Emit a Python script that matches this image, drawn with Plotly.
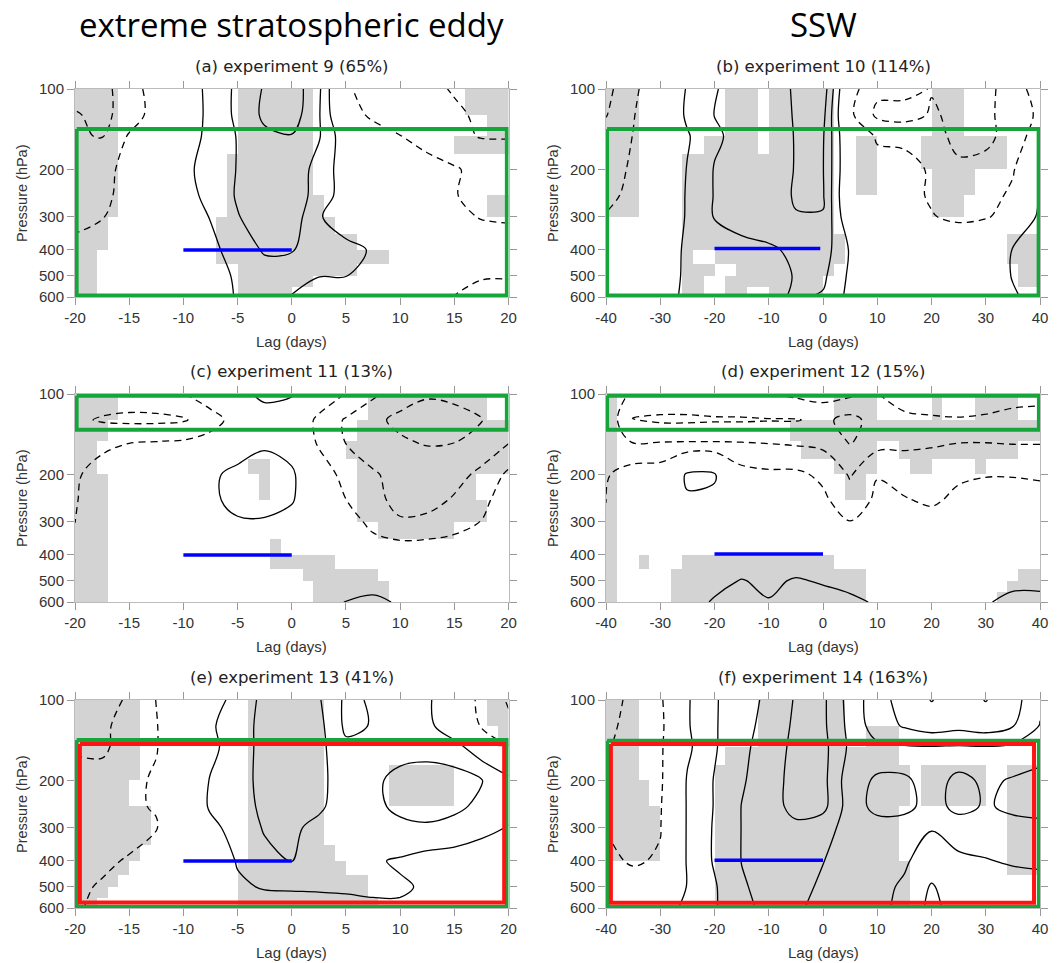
import numpy as np
import plotly.graph_objects as go

# ---------------- data ----------------
lags20 = [-20, -17.5, -15, -12.5, -10, -7.5, -5, -2.5, 0, 2.5, 5, 7.5, 10, 12.5, 15, 17.5, 20]
lags40 = [-40, -35, -30, -25, -20, -15, -10, -5, 0, 5, 10, 15, 20, 25, 30, 35, 40]
plev = [100, 125, 150, 200, 250, 300, 400, 500, 600]
shade_pedges = [100, 125, 150, 175, 200, 250, 300, 350, 400, 450, 500, 550, 600]
ptick_vals = [100, 200, 300, 400, 500, 600]
lagtick20 = [-20, -15, -10, -5, 0, 5, 10, 15, 20]
lagtick40 = [-40, -30, -20, -10, 0, 10, 20, 30, 40]
col_titles = ["extreme stratospheric eddy", "SSW"]
panel_titles = ["(a) experiment 9 (65%)", "(b) experiment 10 (114%)",
                "(c) experiment 11 (13%)", "(d) experiment 12 (15%)",
                "(e) experiment 13 (41%)", "(f) experiment 14 (163%)"]

z_a = [
    [-2.5, -2.3, -1.5, -0.5, 0.3, 1.3, 2.2, 3.1, 3.6, 2.2, -0.9, -1.3, -1.5, -1.7, -2.1, -2.5, -2.5],
    [-1.9, -2.3, -1.5, -0.6, 0.2, 1.3, 2.2, 3.2, 3.5, 2.1, -0.5, -1.2, -1.4, -1.6, -1.8, -2.2, -2.4],
    [-1.9, -2.05, -0.9, -0.3, 0.4, 1.3, 2.05, 2.8, 2.95, 2.1, 0.3, -0.5, -0.98, -1.4, -1.8, -2.05, -2.05],
    [-1.6, -1.3, -0.7, -0.2, 0.8, 1.3, 2.05, 2.6, 2.7, 1.6, 0.5, 0.1, -0.3, -0.6, -0.9, -1.3, -1.5],
    [-1.4, -1.2, -0.7, -0.2, 0.6, 1.3, 2.1, 2.6, 2.6, 1.6, 0.5, 0.1, -0.2, -0.5, -0.95, -1.3, -1.5],
    [-1.2, -1.05, -0.6, -0.1, 0.4, 1.05, 1.95, 2.5, 2.6, 1.1, 0.4, 0.1, -0.2, -0.5, -0.8, -1.05, -1.1],
    [-0.8, -0.5, -0.3, 0.0, 0.3, 0.7, 1.5, 2.1, 2.05, 1.6, 1.3, 0.9, 0.3, 0.0, -0.3, -0.5, -0.6],
    [-0.6, -0.4, -0.2, 0.0, 0.3, 0.7, 1.1, 1.6, 1.6, 1.02, 1.02, 0.6, 0.2, -0.2, -0.6, -0.9, -0.9],
    [-0.5, -0.3, -0.1, 0.0, 0.3, 0.7, 1.05, 1.4, 0.95, 0.7, 0.5, 0.3, 0.0, -0.4, -1.05, -1.4, -1.5],
]
z_b = [
    [-2.3, -1.2, -0.3, 1.1, 1.95, 2.3, 2.6, 3.1, 3.6, -0.6, -1.8, -1.7, -2.05, -2.3, -2.3, -1.5, -0.5],
    [-2.05, -1.05, -0.3, 1.2, 2.02, 2.4, 2.7, 3.05, 3.3, -0.8, -2.2, -2.4, -1.9, -2.2, -2.2, -1.6, -0.8],
    [-1.6, -0.98, -0.2, 0.9, 1.85, 2.3, 2.5, 3.05, 3.1, -0.3, -1.1, -1.2, -1.6, -2.3, -2.3, -1.5, -0.5],
    [-1.3, -0.9, -0.1, 1.05, 2.05, 2.3, 2.5, 3.05, 3.05, -0.2, -0.7, -0.7, -1.1, -1.8, -1.6, -1.1, 0.5],
    [-1.2, -0.8, 0.0, 1.1, 2.05, 2.3, 2.5, 3.1, 3.1, -0.4, -0.6, -0.7, -1.1, -1.6, -1.4, -0.8, 1.1],
    [-0.95, -0.6, 0.1, 1.1, 2.05, 2.4, 2.6, 2.95, 2.95, 0.0, -0.3, -0.6, -0.95, -1.2, -1.1, -0.6, 1.3],
    [-0.4, -0.2, 0.3, 1.2, 1.6, 1.7, 1.85, 2.2, 2.5, 0.9, 0.3, 0.1, 0.0, -0.1, 0.3, 1.05, 1.5],
    [-0.2, 0.0, 0.4, 1.2, 1.5, 1.6, 1.7, 2.05, 2.2, 0.8, 0.4, 0.2, 0.1, 0.1, 0.4, 1.05, 1.5],
    [-0.1, 0.1, 0.6, 1.2, 1.5, 1.6, 1.8, 2.1, 1.9, 0.7, 0.4, 0.2, 0.1, 0.1, 0.3, 0.9, 1.3],
]
z_c = [
    [-1.3, -1.4, -1.5, -1.4, -1.05, -0.3, 0.6, 1.3, 1.1, 0.0, -1.05, -1.8, -2.6, -2.9, -2.8, -2.2, -1.9],
    [-1.8, -2.1, -2.2, -2.2, -2.1, -1.5, -0.5, 0.4, 0.2, -1.3, -2.1, -2.8, -3.2, -3.4, -3.3, -3.05, -2.5],
    [-1.3, -1.2, -1.05, -1.02, -0.95, -0.6, 0.3, 0.8, 0.4, -1.2, -2.05, -2.5, -2.9, -3.1, -3.05, -2.6, -2.1],
    [-1.1, -0.7, -0.3, 0.0, 0.4, 0.8, 1.3, 1.5, 1.2, -0.3, -1.4, -1.9, -2.3, -2.4, -2.3, -1.8, -0.8],
    [-1.05, -0.6, -0.2, 0.1, 0.4, 0.8, 1.3, 1.4, 1.1, 0.0, -0.98, -1.7, -2.3, -2.3, -1.9, -1.2, -0.6],
    [-1.02, -0.5, -0.2, 0.0, 0.3, 0.6, 0.9, 0.9, 0.6, 0.0, -0.5, -1.3, -1.9, -1.8, -1.5, -0.98, -0.5],
    [-0.5, -0.3, -0.1, 0.0, 0.1, 0.2, 0.3, 0.3, 0.2, 0.0, -0.2, -0.4, -0.3, -0.3, -0.2, -0.1, -0.1],
    [-0.2, -0.1, 0.0, 0.0, 0.0, 0.1, 0.1, 0.1, 0.1, 0.2, 0.5, 0.6, 0.5, 0.2, 0.0, 0.0, 0.0],
    [-0.1, 0.0, 0.0, 0.0, 0.0, 0.0, 0.1, 0.1, 0.2, 0.4, 1.05, 1.2, 0.9, 0.4, 0.1, 0.0, 0.0],
]
z_d = [
    [-0.8, -2.3, -2.4, -2.4, -2.3, -2.2, -2.05, -1.8, -1.6, -1.8, -2.05, -1.2, -1.1, -1.2, -1.3, -1.4, -1.5],
    [-1.2, -3.1, -3.15, -3.15, -3.1, -3.1, -3.05, -3.05, -2.8, -3.3, -2.6, -2.4, -2.2, -2.1, -2.2, -2.5, -2.6],
    [-1.4, -2.1, -2.05, -2.05, -2.05, -2.05, -2.1, -2.2, -2.3, -3.1, -2.4, -2.2, -2.1, -2.05, -2.05, -2.1, -2.1],
    [-1.1, -0.5, -0.4, 1.15, 1.1, -0.6, -0.8, -0.8, -1.2, -2.1, -1.05, -1.5, -1.6, -1.2, -1.05, -1.05, -1.1],
    [-1.05, -0.3, -0.2, 0.9, 0.8, -0.3, -0.4, -0.5, -0.8, -1.6, -0.8, -0.9, -1.2, -0.7, -0.6, -0.6, -0.7],
    [-0.6, -0.1, 0.0, 0.2, 0.2, -0.1, -0.2, -0.3, -0.5, -0.98, -0.4, -0.4, -0.5, -0.4, -0.3, -0.3, -0.4],
    [-0.2, 0.1, 0.2, 0.3, 0.3, 0.3, 0.3, 0.3, 0.2, 0.1, 0.0, 0.0, 0.0, 0.0, 0.0, 0.1, 0.2],
    [0.0, 0.1, 0.2, 0.4, 0.7, 1.05, 0.8, 1.1, 0.9, 0.7, 0.4, 0.2, 0.2, 0.3, 0.4, 0.7, 0.8],
    [0.0, 0.1, 0.3, 0.6, 1.1, 1.6, 1.05, 1.6, 1.4, 1.2, 0.9, 0.5, 0.3, 0.4, 0.9, 1.3, 1.2],
]
z_e = [
    [-2.5, -2.3, -1.9, -0.98, 0.0, 0.6, 1.3, 2.3, 2.5, 2.1, 0.8, 1.1, 1.5, 1.2, 0.0, -1.3, -2.1],
    [-2.3, -2.2, -1.6, -1.05, -0.1, 0.9, 1.4, 2.4, 2.6, 2.3, 0.8, 1.05, 1.5, 1.3, 0.2, -1.1, -1.8],
    [-2.1, -2.2, -1.5, -1.05, -0.2, 0.8, 1.4, 2.4, 2.6, 2.3, 1.2, 1.4, 1.6, 1.6, 1.4, 0.3, -0.9],
    [-1.7, -1.6, -1.2, -0.9, 0.2, 1.05, 1.6, 2.3, 2.6, 2.4, 1.2, 1.8, 2.3, 2.5, 2.4, 2.05, 1.3],
    [-1.5, -1.4, -1.1, -0.95, 0.2, 1.1, 1.6, 2.2, 2.4, 2.2, 1.4, 1.8, 2.2, 2.3, 2.2, 1.8, 1.3],
    [-1.3, -1.3, -1.2, -1.05, 0.0, 0.8, 1.3, 2.1, 2.2, 1.7, 1.4, 1.5, 1.8, 1.9, 1.7, 1.3, 0.95],
    [-1.2, -1.1, -0.95, -0.6, -0.2, 0.5, 1.05, 1.7, 2.02, 1.4, 1.2, 1.1, 0.9, 0.6, 0.5, 0.4, 0.3],
    [-1.1, -0.95, -0.7, -0.4, -0.1, 0.4, 0.9, 1.05, 1.1, 1.1, 1.1, 1.1, 1.1, 0.9, 0.6, 0.4, 0.3],
    [-1.1, -0.8, -0.5, -0.2, 0.2, 0.6, 0.9, 0.7, 0.6, 0.7, 0.8, 0.9, 0.9, 0.7, 0.5, 0.3, 0.2],
]
z_f = [
    [-0.5, -1.3, -1.2, 0.9, 1.9, 2.6, 3.2, 4.1, 4.2, 2.6, 1.4, 0.6, -1.1, 0.2, -1.1, 0.6, 1.8],
    [-0.7, -1.4, -1.3, 0.9, 1.9, 2.7, 3.3, 4.2, 4.2, 2.7, 1.5, 0.9, 0.5, 0.7, 0.5, 0.95, 2.05],
    [-0.9, -1.4, -1.2, 0.8, 1.9, 2.8, 3.4, 4.3, 4.3, 2.8, 2.2, 2.1, 2.05, 2.1, 2.05, 2.2, 2.4],
    [-1.1, -1.3, -1.2, 1.1, 2.05, 2.9, 3.5, 4.4, 4.3, 2.4, 3.2, 3.2, 2.5, 3.3, 2.8, 3.1, 3.4],
    [-1.1, -1.2, -1.1, 1.1, 2.05, 3.02, 3.6, 4.3, 4.3, 2.5, 3.3, 3.3, 2.6, 3.3, 2.9, 3.2, 3.4],
    [-1.02, -1.2, -1.05, 1.1, 2.1, 3.02, 3.5, 3.8, 3.4, 2.6, 2.6, 2.5, 2.05, 2.5, 2.5, 2.7, 2.7],
    [-0.8, -1.1, -0.9, 1.1, 2.1, 3.02, 3.4, 3.4, 3.02, 2.6, 2.4, 2.1, 1.6, 1.8, 1.95, 2.1, 2.2],
    [-0.5, -0.6, -0.2, 1.05, 1.9, 2.9, 3.3, 3.2, 2.9, 2.5, 2.2, 1.9, 0.9, 1.6, 1.6, 1.6, 1.6],
    [-0.3, -0.3, 0.6, 1.2, 1.9, 2.8, 3.2, 3.1, 2.8, 2.4, 2.2, 1.8, 0.7, 1.5, 1.6, 1.6, 1.6],
]

# significance shading: per pressure band (shade_pedges), list of (lag_start, lag_end)
shade_a = [
    [(-20, -16), (-5, 2), (16, 20)],
    [(-20, -16), (-5, 2), (18, 20)],
    [(-20, -16), (-5, 2), (15, 20)],
    [(-20, -16), (-6, 2)],
    [(-20, -16), (-6, 2)],
    [(-20, -16), (-6, 3), (18, 20)],
    [(-20, -17), (-7, 4)],
    [(-20, -17), (-7, 6)],
    [(-20, -18), (-7, 9)],
    [(-20, -18), (-5, 6)],
    [(-20, -18), (-5, 2)],
    [(-20, -18), (-5, 0)],
]
shade_b = [
    [(-40, -35), (-18, -12), (-10, 2), (20, 26)],
    [(-40, -35), (-18, -12), (-10, 2), (20, 26)],
    [(-40, -35), (-22, -12), (-10, 2), (6, 10), (18, 34)],
    [(-40, -35), (-26, 2), (6, 10), (18, 34)],
    [(-40, -35), (-26, 2), (6, 10), (20, 28)],
    [(-40, -35), (-26, 2), (20, 26)],
    [(-26, 2)],
    [(-26, 4), (34, 40)],
    [(-26, -24), (-20, 4), (34, 40)],
    [(-26, -20), (-16, 2), (36, 40)],
    [(-26, -22), (-18, 0), (36, 40)],
    [(-26, -22), (-18, -14), (-10, 0)],
]
shade_c = [
    [(-20, -16), (7, 18)],
    [(-20, -17), (6, 20)],
    [(-20, -18), (5, 20)],
    [(-20, -18), (-4, -2), (6, 20)],
    [(-20, -17), (-3, -2), (6, 17)],
    [(-20, -17), (6, 18)],
    [(-20, -17), (8, 15)],
    [(-20, -17), (-2, -1)],
    [(-20, -17), (-2, 4)],
    [(-20, -17), (1, 8)],
    [(-20, -17), (2, 9)],
    [(-20, -17), (2, 9)],
]
shade_d = [
    [(-40, -38), (2, 10), (20, 22), (28, 36)],
    [(-40, -38), (-6, 40)],
    [(-40, -38), (-4, 10), (14, 36)],
    [(-40, -38), (2, 10), (16, 20), (28, 30)],
    [(-40, -38), (4, 8)],
    [(-40, -38)],
    [(-40, -38)],
    [(-40, -38)],
    [(-40, -38), (-34, -32), (-26, -11), (-10, 2)],
    [(-40, -38), (-28, 8), (36, 40)],
    [(-40, -38), (-28, 8), (34, 40)],
    [(-40, -38), (-28, 8), (32, 40)],
]
shade_e = [
    [(-20, -14), (-4, 3), (18, 20)],
    [(-20, -14), (-4, 3), (19, 20)],
    [(-20, -14), (-4, 3)],
    [(-20, -14), (-4, 3), (9, 15)],
    [(-20, -15), (-4, 3), (9, 15)],
    [(-20, -13), (-4, 3)],
    [(-20, -13), (-4, 3)],
    [(-20, -14), (-4, 4)],
    [(-20, -15), (-5, 5)],
    [(-20, -16), (-5, 7)],
    [(-20, -17), (-5, 7)],
    [(-20, -18), (-5, 8)],
]
shade_f = [
    [(-40, -34), (-12, 4)],
    [(-40, -34), (-12, 4), (8, 14)],
    [(-40, -34), (-18, 14)],
    [(-40, -34), (-20, 16), (18, 30), (34, 40)],
    [(-40, -32), (-20, 16), (18, 30), (34, 40)],
    [(-40, -30), (-20, 14), (34, 40)],
    [(-40, -30), (-20, 14), (34, 40)],
    [(-40, -30), (-20, 14), (34, 40)],
    [(-20, 16), (34, 40)],
    [(-20, 16)],
    [(-20, 16)],
    [(-20, 16)],
]

# analysis boxes (lag range, pressure range) and averaging lines
green_box = [((-19.85, 19.85), (141, 592)), ((-39.8, 39.75), (141, 592)),
             ((-19.85, 19.85), (101.5, 136)), ((-39.8, 39.8), (101.5, 136)),
             ((-19.85, 19.85), (141, 594)), ((-39.8, 39.8), (142, 593))]
red_box = [None, None, None, None,
           ((-19.55, 19.6), (146, 572)), ((-39.1, 38.9), (146, 573))]
blue_line = [((-10, 0), 400), ((-20, -0.5), 395), ((-10, 0), 400),
             ((-20, 0), 397), ((-10, 0), 400), ((-20, 0), 398)]

# ---------------- figure ----------------
W, H = 1057, 963
xdom = [[75 / W, 508.5 / W], [606 / W, 1040 / W]]
ydom = [[1 - 297 / H, 1 - 89 / H], [1 - 602 / H, 1 - 394 / H], [1 - 908 / H, 1 - 700 / H]]

panels = [
    dict(z=z_a, lags=lags20, shade=shade_a, span=20, step=1, ticks=lagtick20),
    dict(z=z_b, lags=lags40, shade=shade_b, span=40, step=2, ticks=lagtick40),
    dict(z=z_c, lags=lags20, shade=shade_c, span=20, step=1, ticks=lagtick20),
    dict(z=z_d, lags=lags40, shade=shade_d, span=40, step=2, ticks=lagtick40),
    dict(z=z_e, lags=lags20, shade=shade_e, span=20, step=1, ticks=lagtick20),
    dict(z=z_f, lags=lags40, shade=shade_f, span=40, step=2, ticks=lagtick40),
]

GRAY = "#d3d3d3"
GREEN = "#16a53a"
RED = "#ff1414"
BLUE = "#0000ff"
TICKFONT = dict(family="Liberation Sans, Arial, sans-serif", size=15, color="#333333")

fig = go.Figure()
layout = dict(width=W, height=H, margin=dict(l=0, r=0, t=0, b=0, pad=0),
              paper_bgcolor="white", plot_bgcolor="white", showlegend=False)
annotations = []

for k, p in enumerate(panels):
    row, col = k // 2, k % 2
    n = k + 1
    xa = "x" if n == 1 else f"x{n}"
    ya = "y" if n == 1 else f"y{n}"
    span, step = p["span"], p["step"]

    # shading grid
    ncols = int(round(2 * span / step))
    xedges = [-span + i * step for i in range(ncols + 1)]
    grid = []
    for spans in p["shade"]:
        rowvals = []
        for i in range(ncols):
            c = -span + (i + 0.5) * step
            rowvals.append(1 if any(a <= c <= b for a, b in spans) else None)
        grid.append(rowvals)
    fig.add_trace(go.Heatmap(x=xedges, y=shade_pedges, z=grid, zmin=0, zmax=1,
                             colorscale=[[0, GRAY], [1, GRAY]], showscale=False,
                             hoverinfo="skip", xaxis=xa, yaxis=ya))

    # contours: negative dashed, positive solid
    fig.add_trace(go.Contour(x=p["lags"], y=plev, z=p["z"], autocontour=False,
                             contours=dict(start=-6, end=-1, size=1, coloring="none"),
                             line=dict(color="black", width=1.3, dash="7px,5px", smoothing=1.0),
                             showscale=False, hoverinfo="skip", xaxis=xa, yaxis=ya))
    fig.add_trace(go.Contour(x=p["lags"], y=plev, z=p["z"], autocontour=False,
                             contours=dict(start=1, end=6, size=1, coloring="none"),
                             line=dict(color="black", width=1.3, smoothing=1.0),
                             showscale=False, hoverinfo="skip", xaxis=xa, yaxis=ya))

    # boxes
    (gx0, gx1), (gp0, gp1) = green_box[k]
    fig.add_trace(go.Scatter(x=[gx0, gx1, gx1, gx0, gx0], y=[gp0, gp0, gp1, gp1, gp0],
                             mode="lines", line=dict(color=GREEN, width=4),
                             hoverinfo="skip", xaxis=xa, yaxis=ya))
    if red_box[k] is not None:
        (rx0, rx1), (rp0, rp1) = red_box[k]
        fig.add_trace(go.Scatter(x=[rx0, rx1, rx1, rx0, rx0], y=[rp0, rp0, rp1, rp1, rp0],
                                 mode="lines", line=dict(color=RED, width=4),
                                 hoverinfo="skip", xaxis=xa, yaxis=ya))
    (bx0, bx1), bp = blue_line[k]
    fig.add_trace(go.Scatter(x=[bx0, bx1], y=[bp, bp], mode="lines",
                             line=dict(color=BLUE, width=3.5),
                             hoverinfo="skip", xaxis=xa, yaxis=ya))

    xkey = "xaxis" if n == 1 else f"xaxis{n}"
    ykey = "yaxis" if n == 1 else f"yaxis{n}"
    layout[xkey] = dict(domain=xdom[col], anchor=ya, range=[-span, span], automargin=False,
                        tickmode="array", tickvals=p["ticks"], ticktext=[str(v) for v in p["ticks"]],
                        ticks="outside", ticklen=7, tickcolor="#999999", tickwidth=1,
                        showline=True, linecolor="#bbbbbb", linewidth=1, mirror="ticks",
                        showgrid=False, zeroline=False, tickfont=TICKFONT)
    layout[ykey] = dict(domain=ydom[row], anchor=xa, type="log", automargin=False,
                        range=[np.log10(600), 2], tickmode="array",
                        tickvals=ptick_vals, ticktext=[str(v) for v in ptick_vals],
                        ticks="outside", ticklen=7, tickcolor="#999999", tickwidth=1,
                        showline=True, linecolor="#bbbbbb", linewidth=1, mirror="ticks",
                        showgrid=False, zeroline=False, tickfont=TICKFONT)

    cx = (xdom[col][0] + xdom[col][1]) / 2
    top_px = [89, 394, 700][row]
    bot_px = [297, 602, 908][row]
    annotations.append(dict(text=panel_titles[k], x=cx, y=1 - (top_px - 23) / H,
                            xref="paper", yref="paper", xanchor="center", yanchor="middle",
                            showarrow=False,
                            font=dict(family="DejaVu Sans, sans-serif", size=16.5, color="#222222")))
    annotations.append(dict(text="Lag (days)", x=cx, y=1 - (bot_px + 44) / H,
                            xref="paper", yref="paper", xanchor="center", yanchor="middle",
                            showarrow=False,
                            font=dict(family="Liberation Sans, Arial, sans-serif", size=15, color="#333333")))
    annotations.append(dict(text="Pressure (hPa)", x=(xdom[col][0] * W - 53) / W,
                            y=1 - ((top_px + bot_px) / 2) / H,
                            xref="paper", yref="paper", xanchor="center", yanchor="middle",
                            textangle=-90, showarrow=False,
                            font=dict(family="Liberation Sans, Arial, sans-serif", size=14.5, color="#333333")))

for col in range(2):
    cx = (xdom[col][0] + xdom[col][1]) / 2
    annotations.append(dict(text=col_titles[col], x=cx, y=1 - 24 / H,
                            xref="paper", yref="paper", xanchor="center", yanchor="middle",
                            showarrow=False,
                            font=dict(family="Open Sans, sans-serif", size=33, color="black")))

layout["annotations"] = annotations
fig.update_layout(**layout)
fig.write_html("out.html")
